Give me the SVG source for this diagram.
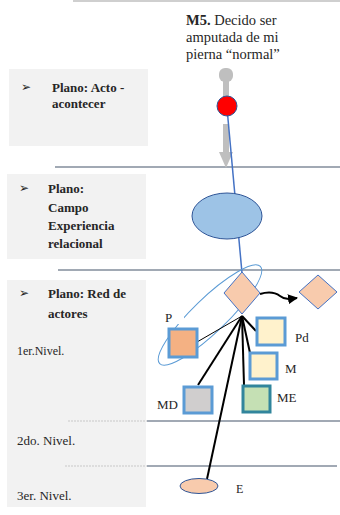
<svg xmlns="http://www.w3.org/2000/svg" width="340" height="515" viewBox="0 0 340 515">
<defs>
<style>
.panel{fill:#f2f2f2}
.t{font-family:"Liberation Serif","Times New Roman",serif;fill:#262626}
.b{font-weight:bold;font-size:13px}
.bul{font-family:"DejaVu Sans",sans-serif;font-size:12px;fill:#262626}
.lvl{font-size:13px}
.lab{font-size:13px}
.hl{stroke:#44546a;stroke-width:1.2}
.dash{stroke:#c8c8c8;stroke-width:1;stroke-dasharray:2 1}
.box{stroke:#5b9bd5;stroke-width:3}
.k{stroke:#000;fill:none}
</style>
<marker id="ah" viewBox="0 0 10 10" refX="9" refY="5" markerWidth="5" markerHeight="5" orient="auto">
<path d="M0,0 L10,5 L0,10 z" fill="#000"/>
</marker>
</defs>

<line x1="73" y1="1" x2="340" y2="1" stroke="#bfbfbf" stroke-width="1.5"/>

<g id="plane-acto">
<rect class="panel" x="9" y="69" width="139" height="77"/>
<text class="bul" x="21" y="91">➢</text>
<text class="t b" x="52" y="92">Plano: Acto -</text>
<text class="t b" x="52" y="108">acontecer</text>
</g>

<g id="plane-campo">
<rect class="panel" x="7" y="174" width="139" height="85"/>
<text class="bul" x="19" y="192">➢</text>
<text class="t b" x="48" y="193">Plano:</text>
<text class="t b" x="48" y="212">Campo</text>
<text class="t b" x="48" y="230">Experiencia</text>
<text class="t b" x="48" y="248">relacional</text>
</g>

<g id="plane-red">
<rect class="panel" x="7" y="280" width="139" height="227"/>
<text class="bul" x="19" y="297">➢</text>
<text class="t b" x="48" y="298">Plano: Red de</text>
<text class="t b" x="48" y="318">actores</text>
<text class="t" x="17" y="355" font-size="12">1er.Nivel.</text>
<text class="t lvl" x="17" y="445">2do. Nivel.</text>
<text class="t lvl" x="17" y="500">3er. Nivel.</text>
</g>

<g id="separators">
<line class="hl" x1="55" y1="167" x2="340" y2="167"/>
<line class="hl" x1="58" y1="270" x2="340" y2="270"/>
<line class="dash" x1="68" y1="421" x2="147" y2="421"/>
<line class="hl" x1="147" y1="421" x2="340" y2="421"/>
<line class="dash" x1="65" y1="466" x2="147" y2="466"/>
<line class="hl" x1="147" y1="466" x2="337" y2="466"/>
</g>

<g id="m5">
<text class="t" font-size="14.5" x="186" y="25"><tspan font-weight="bold">M5.</tspan> Decido ser</text>
<text class="t" font-size="14.5" x="186" y="42">amputada de mi</text>
<text class="t" font-size="14.5" x="186" y="59">pierna “normal”</text>
</g>

<g id="connectors">
<rect x="219" y="68" width="14" height="14" rx="6" fill="#bfbfbf"/>
<rect x="223" y="80" width="6" height="20" fill="#bfbfbf"/>
<rect x="223" y="124" width="6" height="28" fill="#bfbfbf"/>
<polygon points="219,152 233,152 226,168" fill="#bfbfbf"/>
<line x1="227" y1="108" x2="242" y2="273" stroke="#4472c4" stroke-width="1.5"/>
<ellipse cx="210" cy="315" rx="70" ry="17" transform="rotate(-44 210 315)" fill="none" stroke="#5b9bd5" stroke-width="1"/>
<rect x="160" y="306" width="24" height="18" fill="#fff"/>
<line class="k" x1="242" y1="316" x2="197" y2="342" stroke-width="1"/>
<line class="k" x1="242" y1="316" x2="256" y2="331" stroke-width="2"/>
<line class="k" x1="242" y1="316" x2="250" y2="353" stroke-width="2"/>
<line class="k" x1="242" y1="316" x2="244" y2="385" stroke-width="2"/>
<line class="k" x1="242" y1="316" x2="198" y2="385" stroke-width="2"/>
<line class="k" x1="242" y1="316" x2="207" y2="479" stroke-width="2"/>
<path class="k" d="M260,294 C270,291 276,293 280,296 C285,300 290,299 297,298" stroke-width="2" marker-end="url(#ah)"/>
</g>

<g id="red-dot">
<circle cx="227" cy="106" r="10" fill="#ff0000" stroke="#2f5597" stroke-width="1"/>
</g>

<g id="campo-ellipse">
<ellipse cx="227" cy="216" rx="35" ry="23" fill="#9dc3e6" stroke="#2f5597" stroke-width="1"/>
</g>

<g id="hub">
<polygon points="242,272 260,293 242,314 224,293" fill="#f8cbad" stroke="#4472c4" stroke-width="1"/>
</g>

<g id="target">
<polygon points="318,275 337,292 318,309 299,292" fill="#f8cbad" stroke="#4472c4" stroke-width="1"/>
</g>

<g id="P">
<rect class="box" x="169" y="329" width="28" height="28" fill="#f4b183"/>
<text class="t lab" x="165" y="322">P</text>
</g>

<g id="Pd">
<rect class="box" x="257" y="318" width="28" height="27" fill="#fff2cc"/>
<text class="t lab" x="295" y="342">Pd</text>
</g>

<g id="M">
<rect class="box" x="250" y="353" width="27" height="26" fill="#fff2cc"/>
<text class="t lab" x="285" y="373">M</text>
</g>

<g id="ME">
<rect x="243" y="386" width="27" height="26" fill="#c5e0b4" stroke="#31859c" stroke-width="3"/>
<text class="t lab" x="277" y="402">ME</text>
</g>

<g id="MD">
<rect class="box" x="184" y="387" width="28" height="26" fill="#d0cece"/>
<text class="t lab" x="157" y="409">MD</text>
</g>

<g id="E">
<ellipse cx="199" cy="486" rx="19" ry="7.5" fill="#f8cbad" stroke="#2f5597" stroke-width="1"/>
<text class="t" font-size="12" x="236" y="493">E</text>
</g>
</svg>
